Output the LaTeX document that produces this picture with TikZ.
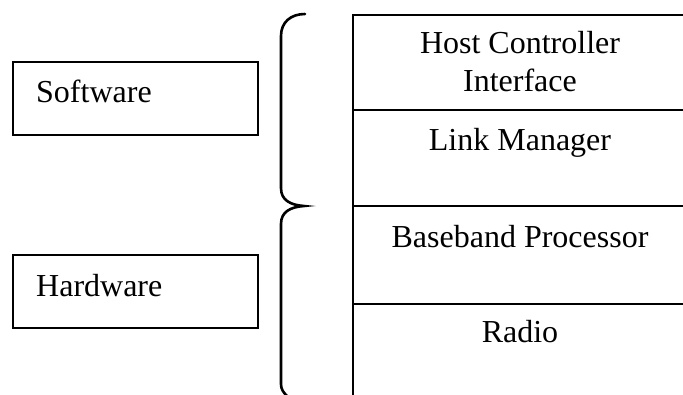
\documentclass[tikz,border=0pt]{standalone}
\usepackage{fontspec}
\setmainfont{Liberation Serif}
\begin{document}
\begin{tikzpicture}[x=1pt,y=-1pt,
  line width=2.4pt,
  txt/.style={inner sep=0pt, font=\fontsize{32}{38}\selectfont},
  sidebox/.style={draw, minimum width=245pt, minimum height=73pt, anchor=north west, inner sep=0pt},
  layer/.style={draw, minimum width=368pt, anchor=north west, inner sep=0pt},
  bracestyle/.style={line width=2.6pt, line cap=round}]
\useasboundingbox (0,0) rectangle (683,394);
\clip (0,0) rectangle (683,394);
% left boxes
\node[sidebox] (swbox) at (12,61) {};
\node[sidebox] (hwbox) at (12,254) {};
\node[txt, anchor=base west] (sw) at (35,102) {Software};
\node[txt, anchor=base west] (hw) at (35,296) {Hardware};
% layer stack
\node[layer, minimum height=95pt] (hci) at (352,14) {};
\node[layer, minimum height=96pt] (lm) at (352,109) {};
\node[layer, minimum height=98pt] (bb) at (352,205) {};
\node[layer, minimum height=130pt] (radio) at (352,303) {};
\node[txt, align=center] (hcit) at (520,62) {Host Controller\\Interface};
\node[txt, anchor=base] (lmt) at (520,150) {Link Manager};
\node[txt, anchor=base] (bbt) at (520,247) {Baseband Processor};
\node[txt, anchor=base] (rt) at (520,342) {Radio};
% brace
\draw[bracestyle] (305,14) .. controls (291,14) and (281,22) .. (281,36)
  -- (281,188) .. controls (281,200) and (290,205) .. (304,206)
  .. controls (290,207) and (281,212) .. (281,224)
  -- (281,384) .. controls (281,389) and (283,392) .. (287,396);
\end{tikzpicture}
\end{document}
